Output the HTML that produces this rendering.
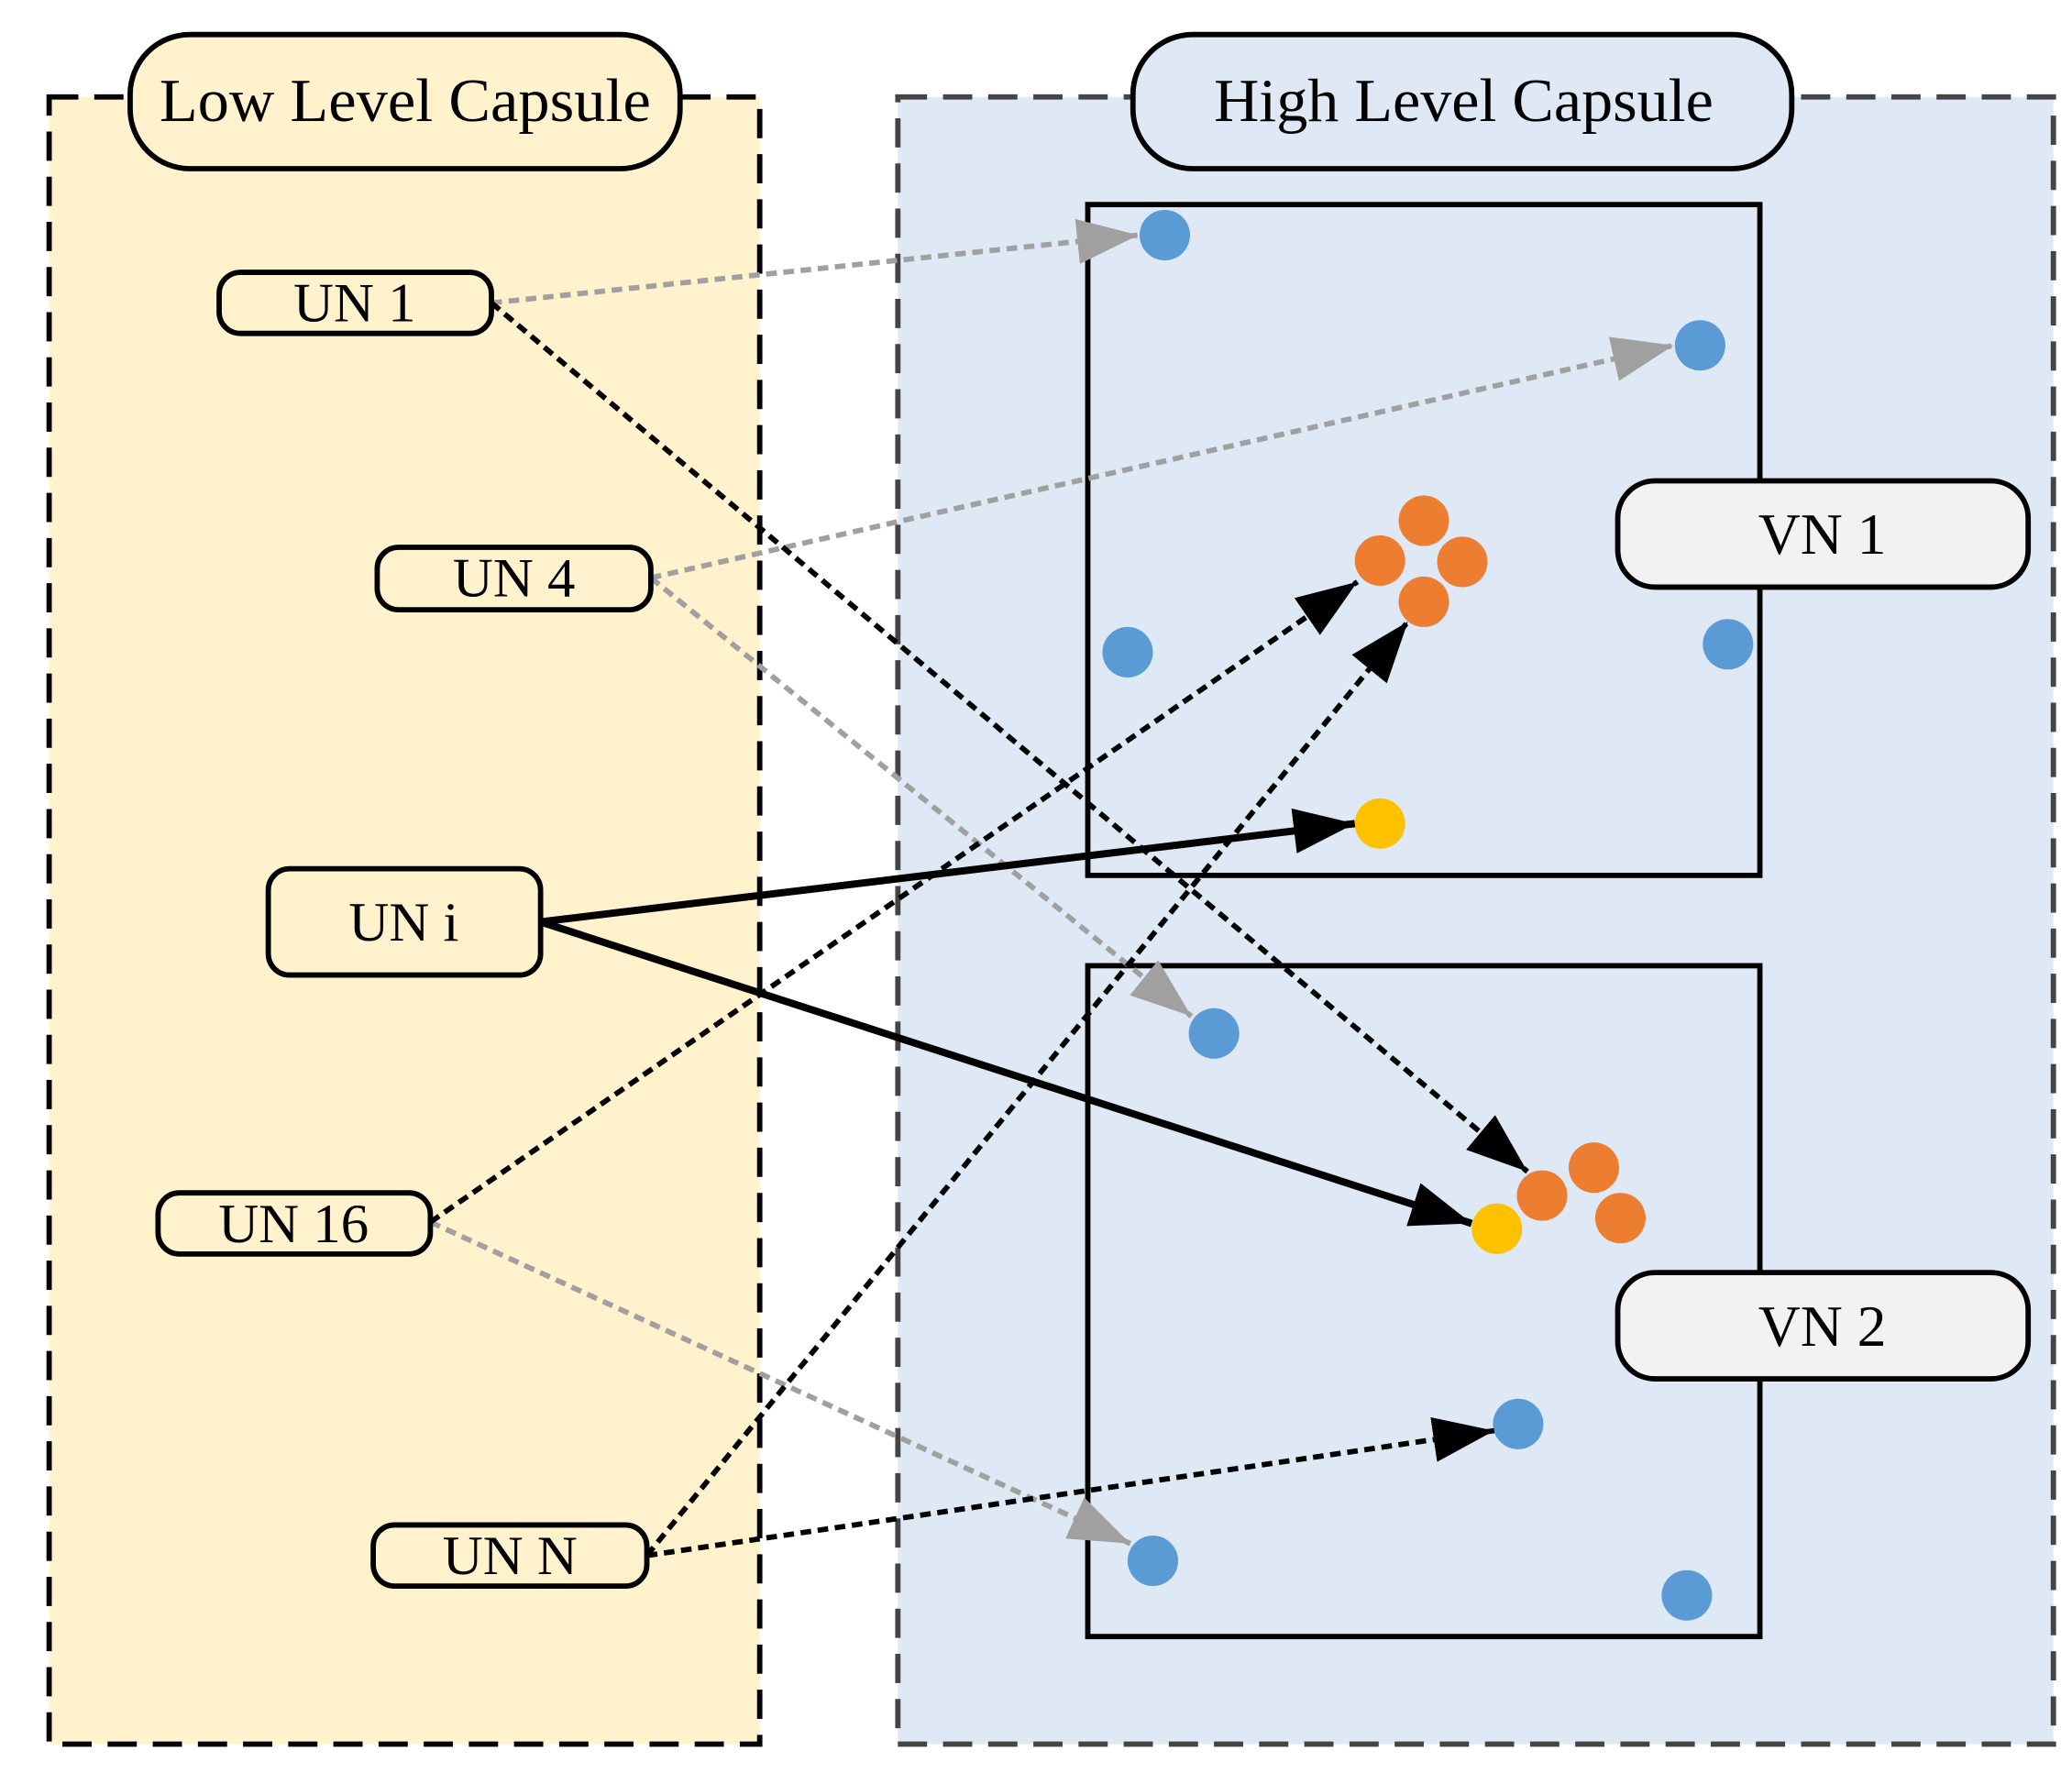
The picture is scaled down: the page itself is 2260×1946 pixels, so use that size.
<!DOCTYPE html>
<html><head><meta charset="utf-8"><style>html,body{margin:0;padding:0;background:#fff}svg{display:block}</style></head>
<body>
<svg width="2260" height="1946" viewBox="0 0 1560 1343" preserveAspectRatio="none" xmlns="http://www.w3.org/2000/svg" font-family="Liberation Serif, serif">
<defs>
<marker id="ab" markerUnits="userSpaceOnUse" markerWidth="48" markerHeight="36" refX="46" refY="17" orient="auto"><path d="M0,0 L46,17 L0,34 Z" fill="#000"/></marker>
<marker id="ag" markerUnits="userSpaceOnUse" markerWidth="48" markerHeight="36" refX="46" refY="17" orient="auto"><path d="M0,0 L46,17 L0,34 Z" fill="#a0a0a0"/></marker>
</defs>
<rect x="37" y="73" width="535" height="1240" fill="#FFF2CC" stroke="#000" stroke-width="4" stroke-dasharray="22,12"/>
<rect x="676" y="73" width="870" height="1240" fill="#DEE9F5" stroke="#444" stroke-width="4" stroke-dasharray="22,12"/>
<rect x="98" y="26" width="414" height="101" rx="45" fill="#FFF2CC" stroke="#000" stroke-width="4"/>
<text x="305" y="91" font-size="46" text-anchor="middle" textLength="370" lengthAdjust="spacingAndGlyphs">Low Level Capsule</text>
<rect x="853" y="26" width="496" height="101" rx="45" fill="#DEE9F5" stroke="#000" stroke-width="4"/>
<text x="1102" y="91" font-size="46" text-anchor="middle" textLength="376" lengthAdjust="spacingAndGlyphs">High Level Capsule</text>
<rect x="819" y="154" width="506" height="505" fill="none" stroke="#000" stroke-width="4"/>
<rect x="819" y="727" width="506" height="505" fill="none" stroke="#000" stroke-width="4"/>
<rect x="1218" y="362" width="309" height="80" rx="28" fill="#F2F2F2" stroke="#000" stroke-width="4"/>
<text x="1372" y="417" font-size="44" text-anchor="middle">VN 1</text>
<rect x="1218" y="958" width="309" height="80" rx="28" fill="#F2F2F2" stroke="#000" stroke-width="4"/>
<text x="1372" y="1013" font-size="44" text-anchor="middle">VN 2</text>
<g fill="#5B9BD5">
<circle cx="877" cy="177" r="19"/><circle cx="1280" cy="260" r="19"/><circle cx="849" cy="491" r="19"/><circle cx="1301" cy="485" r="19"/>
<circle cx="914" cy="778" r="19"/><circle cx="1143" cy="1072" r="19"/><circle cx="868" cy="1175" r="19"/><circle cx="1270" cy="1201" r="19"/>
</g>
<g fill="#ED7D31">
<circle cx="1072" cy="392" r="19"/><circle cx="1039" cy="422" r="19"/><circle cx="1101" cy="423" r="19"/><circle cx="1072" cy="453" r="19"/>
<circle cx="1161" cy="900" r="19"/><circle cx="1200" cy="879" r="19"/><circle cx="1220" cy="917" r="19"/>
</g>
<g fill="#FFC000"><circle cx="1039" cy="620" r="19"/><circle cx="1127" cy="925" r="19"/></g>
<g fill="none" stroke-width="4" stroke-dasharray="8,5">
<line x1="370" y1="228" x2="857" y2="177" stroke="#a0a0a0" marker-end="url(#ag)"/>
<line x1="490" y1="435" x2="1260" y2="260" stroke="#a0a0a0" marker-end="url(#ag)"/>
<line x1="490" y1="435" x2="897" y2="765" stroke="#a0a0a0" marker-end="url(#ag)"/>
<line x1="324" y1="920" x2="851" y2="1162" stroke="#a0a0a0" marker-end="url(#ag)"/>
<line x1="370" y1="228" x2="1150" y2="882" stroke="#000" marker-end="url(#ab)"/>
<line x1="324" y1="920" x2="1022" y2="438" stroke="#000" marker-end="url(#ab)"/>
<line x1="487" y1="1171" x2="1060" y2="468" stroke="#000" marker-end="url(#ab)"/>
<line x1="487" y1="1171" x2="1125" y2="1077" stroke="#000" marker-end="url(#ab)"/>
</g>
<line x1="407" y1="694" x2="1020" y2="620" stroke="#000" stroke-width="5.5" marker-end="url(#ab)"/>
<line x1="407" y1="694" x2="1108" y2="921" stroke="#000" stroke-width="5.5" marker-end="url(#ab)"/>
<g fill="#FFF2CC" stroke="#000" stroke-width="4">
<rect x="165" y="205" width="205" height="46" rx="16"/>
<rect x="284" y="412" width="206" height="47" rx="16"/>
<rect x="202" y="654" width="205" height="80" rx="16"/>
<rect x="119" y="898" width="205" height="46" rx="16"/>
<rect x="281" y="1148" width="206" height="46" rx="16"/>
</g>
<g font-size="42" text-anchor="middle">
<text x="267" y="242">UN 1</text>
<text x="387" y="449">UN 4</text>
<text x="304" y="708">UN i</text>
<text x="221" y="935">UN 16</text>
<text x="384" y="1185">UN N</text>
</g>
</svg>
</body></html>
